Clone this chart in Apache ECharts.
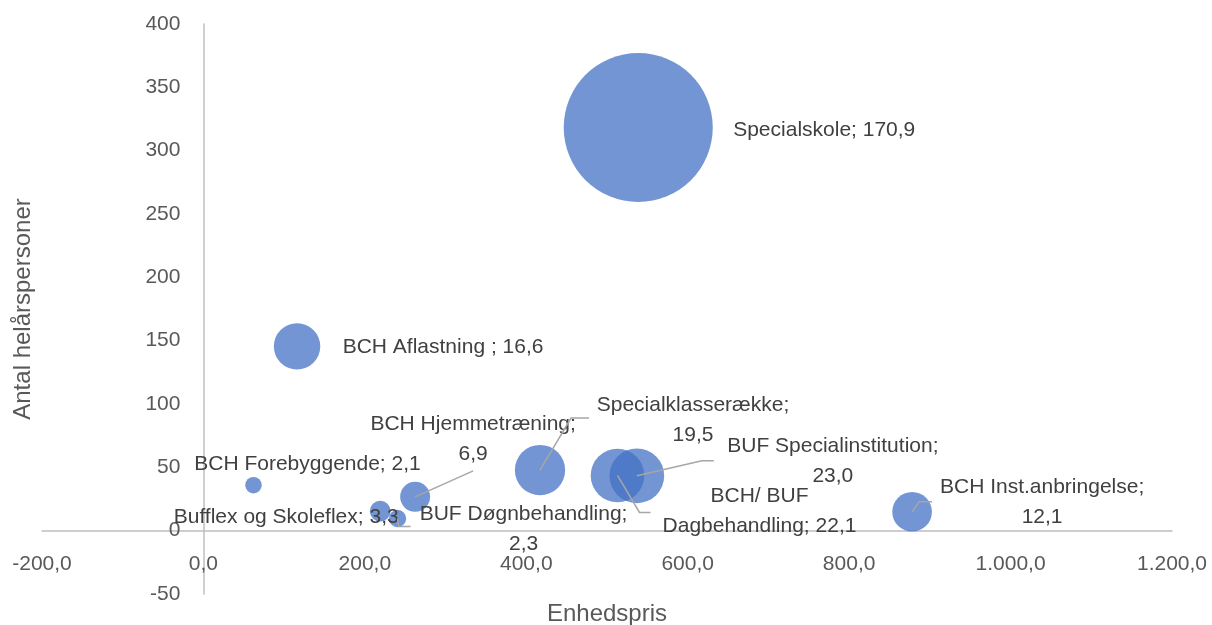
<!DOCTYPE html>
<html>
<head>
<meta charset="utf-8">
<script src="https://cdn.jsdelivr.net/npm/echarts@6/dist/echarts.min.js"></script>
<style>
  html, body { margin: 0; padding: 0; background: #fff; }
  #myChart { width: 1212px; height: 625px; }
</style>
</head>
<body>
<div id="myChart"></div>
<script>
// data
var names = ['Specialskole', 'BCH Aflastning ', 'BCH Forebyggende', 'Bufflex og Skoleflex', 'BUF Døgnbehandling',
  'BCH Hjemmetræning', 'Specialklasserække', 'BCH/ BUF Dagbehandling', 'BUF Specialinstitution', 'BCH Inst.anbringelse'];
var enhedspris = [538.7, 116, 62, 219, 240.5, 262.3, 417, 513, 537, 878];
var helaarspersoner = [318.3, 145.5, 35.9, 15.4, 9.6, 26.7, 47.8, 43.6, 43.3, 14.9];
var boble = [170.9, 16.6, 2.1, 3.3, 2.3, 6.9, 19.5, 22.1, 23.0, 12.1];
var xTicks = [-200, 0, 200, 400, 600, 800, 1000, 1200];
var yTicks = [-50, 0, 50, 100, 150, 200, 250, 300, 350, 400];

// label placement (pixel offsets from bubble centre)
var labelOffset = {0: [186, 3], 1: [146, 1], 2: [54, -21], 3: [-94, 6], 4: [126, 11],
  5: [58, -58], 6: [153, -50], 7: [142, 36], 8: [196, -15], 9: [130, -10]};
var wrapAfterName = {4: 1, 5: 1, 6: 1, 8: 1, 9: 1};
// leader lines (pixel offsets from bubble centre)
var leader = {
  4: [[1, 8], [13, 8]],
  5: [[58, -26]],
  6: [[31, -52], [49, -52]],
  7: [[22, 37], [33, 37]],
  8: [[65, -15], [77, -15]],
  9: [[7, -10], [20, -10]]
};

function dk(v, dec) {
  var s = Math.abs(v).toFixed(dec).split('.');
  var int = s[0].replace(/\B(?=(\d{3})+(?!\d))/g, '.');
  return (v < 0 ? '-' : '') + int + (dec ? ',' + s[1] : '');
}

var font = '"Liberation Sans", Arial, sans-serif';

var bubbleData = [];
var leaderData = [];
for (var i = 0; i < names.length; i++) {
  bubbleData.push({
    value: [enhedspris[i], helaarspersoner[i], boble[i]],
    name: names[i],
    label: { offset: labelOffset[i] }
  });
  leaderData.push([enhedspris[i], helaarspersoner[i]]);
}

function labelText(p) {
  var i = p.dataIndex;
  var v = dk(boble[i], 1);
  if (i === 7) return 'BCH/ BUF\nDagbehandling; ' + v;
  return names[i] + ';' + (wrapAfterName[i] ? '\n' : ' ') + v;
}

// grid box, axes cross at 0/0 -> shift axes inward by offset
var G = { left: 42, right: 40, top: 24, bottom: 31 };
var W = 1212 - G.left - G.right, H = 625 - G.top - G.bottom;
var xMin = xTicks[0], xMax = xTicks[xTicks.length - 1];
var yMin = yTicks[0], yMax = yTicks[yTicks.length - 1];
var yAxisShift = -(0 - xMin) / (xMax - xMin) * W;
var xAxisShift = -(0 - yMin) / (yMax - yMin) * H;

var myChart = echarts.init(document.getElementById('myChart'));
var option = {
  animation: false,
  grid: { left: G.left, right: G.right, top: G.top, bottom: G.bottom, containLabel: false, outerBoundsMode: 'none' },
  xAxis: {
    type: 'value',
    min: xMin, max: xMax, interval: 200,
    offset: xAxisShift,
    name: 'Enhedspris', nameLocation: 'middle', nameGap: 72,
    nameTextStyle: { fontSize: 24, color: '#595959', fontFamily: font },
    axisLine: { onZero: false, lineStyle: { color: '#bfbfbf', width: 1.5 } },
    axisTick: { show: false },
    splitLine: { show: false },
    axisLabel: { margin: 23, fontSize: 21, color: '#595959', fontFamily: font,
      formatter: function (v) { return dk(v, 1); } }
  },
  yAxis: {
    type: 'value',
    min: yMin, max: yMax, interval: 50,
    offset: yAxisShift,
    name: 'Antal helårspersoner', nameLocation: 'middle', nameGap: 168,
    nameTextStyle: { fontSize: 24, color: '#595959', fontFamily: font },
    axisLine: { onZero: false, lineStyle: { color: '#bfbfbf', width: 1.5 } },
    axisTick: { show: false },
    splitLine: { show: false },
    axisLabel: { margin: 23, fontSize: 21, color: '#595959', fontFamily: font }
  },
  series: [{
    type: 'scatter',
    z: 2,
    data: bubbleData,
    symbolSize: function (val) { return Math.sqrt(val[2]) * 11.4; },
    itemStyle: { color: 'rgba(68,114,196,0.75)', opacity: 1 },
    emphasis: { disabled: true },
    label: {
      show: true, position: 'inside', formatter: labelText,
      color: '#404040', fontSize: 21, fontFamily: font, lineHeight: 30,
      align: 'center', verticalAlign: 'middle', textBorderWidth: 0
    }
  }, {
    type: 'custom',
    z: 3,
    silent: true,
    data: leaderData,
    encode: { x: 0, y: 1 },
    renderItem: function (params, api) {
      var seg = leader[params.dataIndex];
      if (!seg) return null;
      var c = api.coord([api.value(0), api.value(1)]);
      var pts = [c];
      seg.forEach(function (o) { pts.push([c[0] + o[0], c[1] + o[1]]); });
      return { type: 'polyline', shape: { points: pts },
        style: { stroke: '#a6a6a6', lineWidth: 1.5, fill: null } };
    }
  }]
};
myChart.setOption(option);
</script>
</body>
</html>
